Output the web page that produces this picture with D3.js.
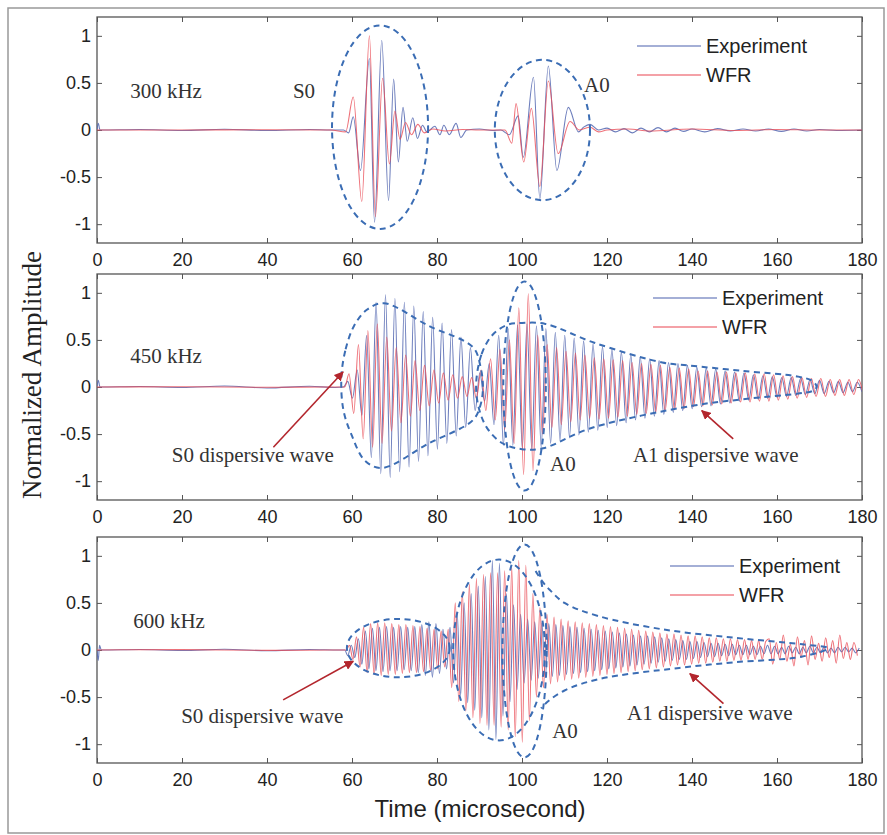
<!DOCTYPE html>
<html>
<head>
<meta charset="utf-8">
<script src="https://cdn.jsdelivr.net/npm/d3@7"></script>
<style>
  body { margin: 0; background: #fff; }
  .tick text { font-family: "Liberation Sans", Arial, sans-serif; font-size: 18px; fill: #222; }
  .tick line { stroke: #555; }
  .note { font-family: "Liberation Serif", "Times New Roman", serif; font-size: 21px; fill: #333; }
  .legend { font-family: "Liberation Sans", Arial, sans-serif; font-size: 20px; fill: #222; }
</style>
</head>
<body>
<svg id="chart" width="887" height="835"></svg>
<script>
const timeTicks = [0, 20, 40, 60, 80, 100, 120, 140, 160, 180];
const ampTicks = [-1, -0.5, 0, 0.5, 1];
const panelLabels = ["300 kHz", "450 kHz", "600 kHz"];
const seriesNames = ["Experiment", "WFR"];

// 300 kHz: [time (µs), amplitude]
const exp300 = [[0,0],[0.3,0.07],[0.7,0],[10,0.005],[20,-0.005],[30,0.008],[40,-0.005],[50,0.006],[55,0],[58,0],
  [59.2,-0.03],[60.3,0.14],[62.0,-0.43],[64.1,0.76],[65.3,-0.98],[67.0,0.95],[68.6,-0.75],[69.8,0.54],[70.9,-0.34],
  [72.0,0.24],[73.0,-0.12],[74.3,0.13],[75.4,-0.09],[76.6,0.05],[77.6,-0.02],[79.5,0.04],[80.7,-0.05],[81.6,0.05],
  [82.9,-0.05],[84.5,0.07],[85.6,-0.08],[87.0,0],[90,0.01],[93,-0.005],[95,0],[97.0,-0.05],[99.1,0.15],[100.3,-0.29],
  [102.7,0.56],[104.2,-0.73],[106.2,0.68],[108.2,-0.43],[110.9,0.24],[113.3,-0.02],[114.5,0.03],[116,0.06],[118,0],
  [120,0.02],[122,-0.02],[124,0.015],[126,-0.03],[128,0.02],[130,-0.02],[132,0.025],[134,-0.02],[136,0.02],
  [138,-0.015],[140,0.01],[143,-0.02],[146,0.015],[149,-0.01],[152,0.01],[155,-0.01],[158,0.01],[161,-0.015],
  [164,0.01],[167,-0.01],[170,0.005],[174,-0.005],[180,0]];
const wfr300 = [[0,0],[20,0],[40,0.003],[55,0],[58.5,-0.02],[60.3,0.35],[62.3,-0.76],[64.1,1.0],[65.5,-0.92],
  [67.2,0.55],[68.8,-0.36],[70.1,0.2],[71.3,-0.1],[72.6,0.08],[74,-0.05],[75.5,0.06],[77,-0.03],[79,0.01],[82,-0.01],
  [86,0.005],[90,0],[96,0],[97.6,-0.14],[98.6,0.28],[100.4,-0.34],[102.2,0.23],[104.2,-0.6],[106.2,0.52],[108.5,-0.25],
  [111.3,0.09],[113.5,0],[116,0.03],[118,-0.02],[120,0],[125,0.01],[130,-0.01],[140,0.01],[150,-0.005],[160,0.005],
  [170,0],[180,0]];

// 450 kHz: quiet lead-in, then successive peak / trough values every half period
const exp450Lead = [[0,0],[0.3,0.07],[0.7,0],[10,0.005],[20,-0.005],[30,0.01],[40,-0.01],[50,0.008],[56,-0.005],[58,0]];
const exp450Start = 59.0, exp450Step = 1.11;
const exp450Peaks = [0.06,-0.12,0.18,-0.3,0.55,-0.75,0.9,-0.92,0.98,-0.96,0.94,-0.9,0.9,-0.85,0.86,-0.79,0.8,-0.73,
  0.74,-0.66,0.68,-0.6,0.61,-0.52,0.53,-0.43,0.42,-0.25,0.15,-0.15,0.25,-0.4,0.55,-0.62,0.62,-0.62,0.66,-0.65,0.67,
  -0.66,0.65,-0.64,0.62,-0.6,0.58,-0.57,0.55,-0.54,0.52,-0.51,0.49,-0.48,0.46,-0.46,0.43,-0.43,0.4,-0.41,0.37,-0.38,
  0.34,-0.35,0.32,-0.33,0.3,-0.31,0.28,-0.29,0.26,-0.27,0.25,-0.25,0.23,-0.23,0.21,-0.21,0.2,-0.2,0.19,-0.18,0.17,
  -0.17,0.16,-0.15,0.15,-0.14,0.13,-0.13,0.12,-0.12,0.11,-0.11,0.1,-0.1,0.1,-0.09,0.09,-0.08,0.08,-0.07,0.07,-0.07,
  0.06,-0.06,0.06,-0.06,0.05,-0.05,0.05,-0.05];
const wfr450Lead = [[0,0],[20,0.003],[40,-0.003],[56,0],[58.3,0]];
const wfr450Start = 59.3, wfr450Step = 1.11;
const wfr450Peaks = [0.14,-0.28,0.45,-0.55,0.6,-0.64,0.67,-0.6,0.53,-0.47,0.42,-0.38,0.34,-0.31,0.28,-0.25,0.23,-0.2,
  0.18,-0.17,0.15,-0.14,0.13,-0.12,0.11,-0.1,0.1,-0.12,0.18,-0.25,0.3,-0.35,0.4,-0.45,0.5,-0.6,0.84,-0.93,0.99,-0.89,
  0.55,-0.5,0.45,-0.43,0.42,-0.4,0.38,-0.37,0.36,-0.35,0.34,-0.33,0.31,-0.34,0.3,-0.33,0.29,-0.32,0.28,-0.31,0.26,
  -0.29,0.25,-0.28,0.24,-0.27,0.23,-0.25,0.21,-0.24,0.2,-0.23,0.19,-0.21,0.17,-0.2,0.17,-0.19,0.16,-0.18,0.16,-0.17,
  0.15,-0.16,0.15,-0.16,0.14,-0.15,0.14,-0.15,0.13,-0.14,0.12,-0.13,0.11,-0.12,0.1,-0.11,0.09,-0.1,0.09,-0.1,0.08,
  -0.09,0.08,-0.09,0.08,-0.08,0.08,-0.08];

// 600 kHz
const exp600Lead = [[0,0],[0.3,-0.11],[0.6,0.05],[1,0],[10,0.005],[20,-0.005],[30,0.008],[40,-0.008],[50,0.006],[57,0],[58.3,0]];
const exp600Start = 59.0, exp600Step = 0.83;
const exp600Peaks = [-0.06,0.05,-0.08,0.12,-0.15,0.2,-0.2,0.23,-0.22,0.24,-0.23,0.25,-0.22,0.24,-0.22,0.25,-0.21,0.24,
  -0.22,0.25,-0.24,0.27,-0.27,0.3,-0.29,0.28,-0.25,0.22,-0.2,0.24,-0.35,0.4,-0.48,0.5,-0.56,0.6,-0.64,0.68,-0.72,0.78,
  -0.85,0.95,-0.95,0.92,-0.7,0.6,-0.55,0.48,-0.42,0.38,-0.35,0.33,-0.32,0.3,-0.3,0.29,-0.29,0.28,-0.28,0.27,-0.27,0.26,
  -0.26,0.25,-0.25,0.24,-0.24,0.23,-0.23,0.22,-0.22,0.21,-0.21,0.2,-0.2,0.19,-0.19,0.18,-0.18,0.17,-0.17,0.16,-0.16,
  0.15,-0.15,0.15,-0.14,0.14,-0.13,0.13,-0.12,0.12,-0.11,0.11,-0.1,0.1,-0.1,0.09,-0.09,0.09,-0.08,0.08,-0.07,0.07,
  -0.07,0.07,-0.06,0.06,-0.06,0.06,-0.05,0.05,-0.05,0.05,-0.05,0.04,-0.05,0.04,-0.04,0.05,-0.04,0.04,-0.04,0.03,-0.04,
  0.04,-0.03,0.03,-0.04,0.03,-0.03,0.04,-0.03,0.03,-0.03,0.03,-0.03,0.02,-0.03,0.03,-0.02,0.03,-0.02,0.02,-0.03,0.02];
const wfr600Lead = [[0,0],[20,0.004],[40,-0.004],[56,0],[58.6,0]];
const wfr600Start = 59.4, wfr600Step = 0.83;
const wfr600Peaks = [0.05,-0.1,0.14,-0.18,0.24,-0.24,0.28,-0.26,0.29,-0.27,0.29,-0.26,0.28,-0.26,0.27,-0.25,0.27,-0.24,
  0.26,-0.24,0.25,-0.23,0.23,-0.22,0.22,-0.2,0.2,-0.18,0.22,-0.4,0.5,-0.55,0.62,-0.65,0.7,-0.72,0.76,-0.78,0.8,-0.8,
  0.82,-0.8,0.82,-0.82,0.84,-0.85,0.88,-0.92,0.95,-0.98,0.9,-0.75,0.6,-0.5,0.45,-0.4,0.38,-0.36,0.35,-0.34,0.33,-0.32,
  0.31,-0.31,0.3,-0.3,0.29,-0.29,0.28,-0.28,0.27,-0.27,0.26,-0.26,0.25,-0.25,0.24,-0.24,0.23,-0.23,0.22,-0.22,0.21,
  -0.21,0.2,-0.2,0.19,-0.19,0.18,-0.18,0.17,-0.17,0.17,-0.16,0.16,-0.16,0.15,-0.15,0.15,-0.14,0.14,-0.14,0.13,-0.13,
  0.13,-0.12,0.12,-0.12,0.12,-0.11,0.11,-0.11,0.11,-0.1,0.1,-0.1,0.1,-0.1,0.09,0.12,-0.15,0.08,-0.1,0.16,-0.12,0.06,
  -0.17,0.14,-0.08,0.1,-0.16,0.15,-0.1,0.07,-0.12,0.13,-0.08,0.1,-0.14,0.16,-0.09,0.08,-0.1,0.08,-0.06];

const onGrid = (lead, start, step, peaks) => lead.concat(peaks.map((v, i) => [start + i * step, v]));

const panels = [
  { label: panelLabels[0], exp: exp300, wfr: wfr300 },
  { label: panelLabels[1], exp: onGrid(exp450Lead, exp450Start, exp450Step, exp450Peaks),
    wfr: onGrid(wfr450Lead, wfr450Start, wfr450Step, wfr450Peaks) },
  { label: panelLabels[2], exp: onGrid(exp600Lead, exp600Start, exp600Step, exp600Peaks),
    wfr: onGrid(wfr600Lead, wfr600Start, wfr600Step, wfr600Peaks) }
];

// annotation shapes, in (time, amplitude)
const ellipses = [
  [[66.6, 0.03, 11.3, 1.08], [104.8, 0, 11.2, 0.745]],
  [[100.6, 0.01, 5, 1.11]],
  [[70.9, 0.02, 12.1, 0.31], [94.6, 0, 10.8, 0.96], [100.6, -0.01, 5.2, 1.13]]
];
const outlines = [
  [],
  [{ closed: true, pts: [[57.5,0.1],[58.5,0.4],[60.5,0.65],[63.5,0.82],[67.5,0.89],[78,0.65],[88.5,0.42],[90.3,0.2],
      [90.8,0],[90.3,-0.18],[88.5,-0.35],[78,-0.6],[67,-0.86],[63,-0.78],[60,-0.52],[58,-0.25]] },
   { closed: true, pts: [[89.2,0.02],[90.5,0.35],[93,0.55],[96.5,0.66],[100,0.68],[105.5,0.67],[117,0.47],[133,0.26],
      [139,0.23],[152,0.17],[165,0.11],[168.5,0.06],[169.3,0],[168.5,-0.04],[165,-0.07],[152,-0.13],[140,-0.2],
      [116,-0.44],[105,-0.65],[100,-0.66],[95.5,-0.6],[92,-0.45],[90,-0.25]] }],
  [{ closed: false, pts: [[103.2,0.84],[104.6,0.74],[106.5,0.64],[110,0.5],[118,0.36],[133,0.22],[150,0.13],[166,0.06],
      [172,0.02],[166,-0.07],[150,-0.13],[137,-0.19],[118,-0.31],[110,-0.43],[106,-0.55],[104.5,-0.62]] }]
];
const notes = [
  [["300 kHz", 7.8, 0.34], ["S0", 46.1, 0.34], ["A0", 114.6, 0.4]],
  [["450 kHz", 7.8, 0.26], ["S0 dispersive wave", 17.6, -0.8], ["A0", 106.6, -0.89], ["A1 dispersive wave", 126.1, -0.8]],
  [["600 kHz", 8.5, 0.235], ["S0 dispersive wave", 19.8, -0.77], ["A0", 107.1, -0.93], ["A1 dispersive wave", 124.7, -0.74]]
];
const arrows = [
  [],
  [[41.5, -0.64, 57.9, 0.16], [149.7, -0.55, 142.3, -0.25]],
  [[43.8, -0.53, 60.3, -0.12], [147.4, -0.57, 139.5, -0.25]]
];
const legendPos = [[637, 29], [653, 24], [670, 29]];

const svg = d3.select("#chart");
const expColor = "#5266b0", wfrColor = "#ea4d58", dashColor = "#3b6db4", arrowColor = "#b3262d";

svg.append("rect").attr("x", 8).attr("y", 8).attr("width", 876).attr("height", 825)
  .attr("fill", "none").attr("stroke", "#999").attr("stroke-width", 1.5);

const defs = svg.append("defs");
defs.append("marker").attr("id", "head").attr("viewBox", "0 0 10 10")
  .attr("refX", 9).attr("refY", 5).attr("markerWidth", 6).attr("markerHeight", 6).attr("orient", "auto")
  .append("path").attr("d", "M0,0L10,5L0,10z").attr("fill", arrowColor);

const x = d3.scaleLinear().domain([0, 180]).range([97, 862]);
const tops = [17, 274, 537], ph = 226;

panels.forEach((p, i) => {
  const top = tops[i];
  const y = d3.scaleLinear().domain([-1.2, 1.2]).range([top + ph, top]);
  const g = svg.append("g");

  defs.append("clipPath").attr("id", "clip" + i)
    .append("rect").attr("x", 97).attr("y", top).attr("width", 765).attr("height", ph);

  // axes, ticks pointing inward on all four sides
  const bottom = g.append("g").attr("transform", `translate(0,${top + ph})`)
    .call(d3.axisBottom(x).tickValues(timeTicks).tickSize(-5).tickPadding(10));
  const topAx = g.append("g").attr("transform", `translate(0,${top})`)
    .call(d3.axisTop(x).tickValues(timeTicks).tickSize(-5).tickFormat(""));
  const left = g.append("g").attr("transform", "translate(97,0)")
    .call(d3.axisLeft(y).tickValues(ampTicks).tickSize(-5).tickPadding(6).tickFormat(d => String(d)));
  const right = g.append("g").attr("transform", "translate(862,0)")
    .call(d3.axisRight(y).tickValues(ampTicks).tickSize(-5).tickFormat(""));
  [bottom, topAx, left, right].forEach(a => { a.select(".domain").remove(); a.attr("font-size", null).attr("font-family", null); });

  g.append("rect").attr("x", 97).attr("y", top).attr("width", 765).attr("height", ph)
    .attr("fill", "none").attr("stroke", "#555").attr("stroke-width", 1.3);

  const line = d3.line().x(d => x(d[0])).y(d => y(d[1])).curve(d3.curveMonotoneX);
  const plot = g.append("g").attr("clip-path", `url(#clip${i})`);
  plot.append("path").datum(p.exp).attr("d", line)
    .attr("fill", "none").attr("stroke", expColor).attr("stroke-width", 1.1).attr("stroke-opacity", 0.85);
  plot.append("path").datum(p.wfr).attr("d", line)
    .attr("fill", "none").attr("stroke", wfrColor).attr("stroke-width", 1.1).attr("stroke-opacity", 0.8);

  // dashed envelopes
  ellipses[i].forEach(([cx, cy, rx, ry]) => {
    g.append("ellipse").attr("cx", x(cx)).attr("cy", y(cy))
      .attr("rx", x(cx + rx) - x(cx)).attr("ry", y(cy) - y(cy + ry))
      .attr("fill", "none").attr("stroke", dashColor).attr("stroke-width", 2).attr("stroke-dasharray", "6,4.5");
  });
  outlines[i].forEach(o => {
    const shape = d3.line().x(d => x(d[0])).y(d => y(d[1]))
      .curve(o.closed ? d3.curveCatmullRomClosed.alpha(0.5) : d3.curveCatmullRom.alpha(0.5));
    g.append("path").attr("d", shape(o.pts))
      .attr("fill", "none").attr("stroke", dashColor).attr("stroke-width", 2).attr("stroke-dasharray", "6,4.5");
  });

  arrows[i].forEach(([t0, v0, t1, v1]) => {
    g.append("line").attr("x1", x(t0)).attr("y1", y(v0)).attr("x2", x(t1)).attr("y2", y(v1))
      .attr("stroke", arrowColor).attr("stroke-width", 1.6).attr("marker-end", "url(#head)");
  });

  notes[i].forEach(([txt, t, v]) => {
    g.append("text").attr("class", "note").attr("x", x(t)).attr("y", y(v)).text(txt);
  });

  // legend
  const [lx, ly] = legendPos[i];
  [expColor, wfrColor].forEach((c, k) => {
    const yy = top + ly + k * 29;
    g.append("line").attr("x1", lx).attr("x2", lx + 64).attr("y1", yy).attr("y2", yy)
      .attr("stroke", c).attr("stroke-width", 1.3).attr("stroke-opacity", 0.7);
    g.append("text").attr("class", "legend").attr("x", lx + 69).attr("y", yy).attr("dy", "0.35em").text(seriesNames[k]);
  });
});

svg.append("text").attr("transform", "translate(41,375) rotate(-90)").attr("text-anchor", "middle")
  .attr("font-family", "'Liberation Serif', 'Times New Roman', serif").attr("font-size", 27).attr("fill", "#222")
  .text("Normalized Amplitude");
svg.append("text").attr("x", 480).attr("y", 817).attr("text-anchor", "middle")
  .attr("font-family", "'Liberation Sans', Arial, sans-serif").attr("font-size", 24).attr("fill", "#222")
  .text("Time (microsecond)");
</script>
</body>
</html>
